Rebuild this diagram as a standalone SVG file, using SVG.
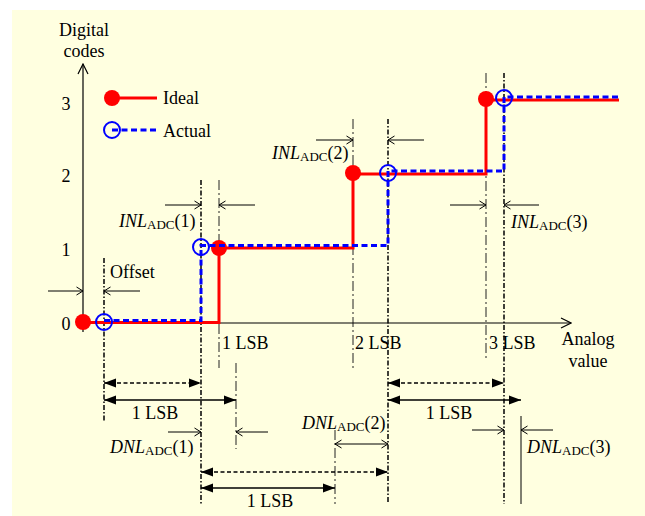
<svg xmlns="http://www.w3.org/2000/svg" width="645" height="516" viewBox="0 0 645 516">
<style>
text{font-family:"Liberation Serif","Times New Roman",serif;font-size:18px;fill:#000}
.it{font-style:italic}
.sub{font-size:13px}
.mid{text-anchor:middle}
.ddb{stroke:#000;stroke-width:1.5;stroke-dasharray:5 2 1.5 2;fill:none}
.ddl{stroke:#222;stroke-width:1;stroke-dasharray:10 3 2 3;fill:none}
.thin{stroke:#000;stroke-width:1;fill:none}
.oa{stroke:#000;stroke-width:1;fill:none;marker-end:url(#oa)}
.oa2{stroke:#000;stroke-width:1;fill:none;marker-end:url(#oa);marker-start:url(#oa)}
.dim{stroke:#000;stroke-width:1.5;fill:none;marker-end:url(#fa);marker-start:url(#fa)}
.dimd{stroke:#000;stroke-width:1.5;stroke-dasharray:4 2.5;fill:none;marker-end:url(#fa);marker-start:url(#fa)}
.ideal{stroke:#f00;stroke-width:3;fill:none}
.actual{stroke:#00f;stroke-width:3;stroke-dasharray:6 3.5;fill:none}
.rdot{fill:#f00}
.bcirc{fill:none;stroke:#00f;stroke-width:2}
</style>
<defs>
<marker id="fa" markerUnits="userSpaceOnUse" viewBox="0 0 14 10" markerWidth="14" markerHeight="10" refX="12" refY="5" orient="auto-start-reverse"><path d="M0,0.5 L12,5 L0,9.5 Z" fill="#000"/></marker>
<marker id="oa" markerUnits="userSpaceOnUse" viewBox="0 0 10 10" markerWidth="10" markerHeight="10" refX="8.5" refY="5" orient="auto-start-reverse"><path d="M2,1 L8.5,5 L2,9" fill="none" stroke="#000" stroke-width="1"/></marker>
<marker id="ax" markerUnits="userSpaceOnUse" viewBox="0 0 12 12" markerWidth="12" markerHeight="12" refX="11" refY="6" orient="auto"><path d="M1,1 L11,6 L1,11" fill="none" stroke="#000" stroke-width="1.2"/></marker>
</defs>
<rect x="12" y="10" width="633" height="506" fill="#FFFFE0"/>
<g id="guides">
<line class="ddb" x1="104" y1="258" x2="104" y2="422"/>
<line class="ddb" x1="201" y1="180" x2="201" y2="504"/>
<line class="ddb" x1="388" y1="119" x2="388" y2="504"/>
<line class="ddb" x1="504" y1="73" x2="504" y2="504"/>
<line class="ddl" x1="219" y1="180" x2="219" y2="368"/>
<line class="ddl" x1="353" y1="119" x2="353" y2="368"/>
<line class="ddl" x1="486" y1="73" x2="486" y2="361"/>
<line class="ddl" x1="236" y1="363" x2="236" y2="449"/>
<line class="ddl" x1="335" y1="430" x2="335" y2="504"/>
<line class="thin" x1="521" y1="416" x2="521" y2="504"/>
</g>
<g id="axes">
<line x1="83" y1="332" x2="83" y2="64" stroke="#000" stroke-width="1.2" marker-end="url(#ax)"/>
<line x1="83" y1="323" x2="571" y2="323" stroke="#000" stroke-width="1.2" marker-end="url(#ax)"/>
<text class="mid" x="84" y="36">Digital</text>
<text class="mid" x="84" y="57">codes</text>
<text class="mid" x="66" y="330">0</text>
<text class="mid" x="66" y="256">1</text>
<text class="mid" x="66" y="182">2</text>
<text class="mid" x="66" y="110">3</text>
<text x="222" y="349">1 LSB</text>
<text x="355" y="349">2 LSB</text>
<text x="489" y="349">3 LSB</text>
<text class="mid" x="588" y="345">Analog</text>
<text class="mid" x="588" y="367">value</text>
</g>
<g id="legend">
<line class="ideal" x1="112" y1="98" x2="157" y2="98"/>
<circle class="rdot" cx="112" cy="98" r="8"/>
<text x="163" y="104">Ideal</text>
<line class="actual" x1="112" y1="130" x2="157" y2="130"/>
<circle class="bcirc" cx="112" cy="130" r="8"/>
<text x="163" y="137">Actual</text>
</g>
<g id="ideal-curve">
<path class="ideal" d="M83,322.5 H219 V248 H353 V174 H486 V100 H619"/>
<circle class="rdot" cx="83" cy="322" r="8"/>
<circle class="rdot" cx="219" cy="248" r="8"/>
<circle class="rdot" cx="353" cy="173" r="8"/>
<circle class="rdot" cx="486" cy="99" r="8"/>
</g>
<g id="actual-curve">
<path class="actual" d="M104,320.5 H201 V245.5 H388 V171 H504 V97 H619"/>
<circle class="bcirc" cx="104" cy="322" r="8"/>
<circle class="bcirc" cx="201" cy="247" r="8"/>
<circle class="bcirc" cx="388" cy="173" r="8"/>
<circle class="bcirc" cx="504" cy="98" r="8"/>
</g>
<g id="connectors">
<path class="oa" d="M48,291 H83"/>
<path class="oa" d="M140,291 H104"/>
<path class="oa" d="M165,205 H201"/>
<path class="oa" d="M255,205 H219"/>
<path class="oa" d="M316,140 H353"/>
<path class="oa" d="M424,140 H388"/>
<path class="oa" d="M450,205 H486"/>
<path class="oa" d="M539,205 H504"/>
<path class="oa" d="M168,432 H201"/>
<path class="oa" d="M268,432 H236"/>
<path class="oa2" d="M335,444 H388"/>
<path class="oa" d="M472,430 H504"/>
<path class="oa" d="M553,430 H521"/>
<path class="dimd" d="M104,383 H201"/>
<path class="dim" d="M104,400 H236"/>
<path class="dimd" d="M201,472 H388"/>
<path class="dim" d="M201,488 H335"/>
<path class="dimd" d="M388,383 H504"/>
<path class="dim" d="M388,400 H521"/>
</g>
<g id="labels">
<text x="110" y="278">Offset</text>
<text x="119" y="227"><tspan class="it">INL</tspan><tspan class="sub" dy="2">ADC</tspan><tspan dy="-2">(1)</tspan></text>
<text x="272" y="159"><tspan class="it">INL</tspan><tspan class="sub" dy="2">ADC</tspan><tspan dy="-2">(2)</tspan></text>
<text x="511" y="228"><tspan class="it">INL</tspan><tspan class="sub" dy="2">ADC</tspan><tspan dy="-2">(3)</tspan></text>
<text x="110" y="453"><tspan class="it">DNL</tspan><tspan class="sub" dy="2">ADC</tspan><tspan dy="-2">(1)</tspan></text>
<text x="302" y="429"><tspan class="it">DNL</tspan><tspan class="sub" dy="2">ADC</tspan><tspan dy="-2">(2)</tspan></text>
<text x="527" y="453"><tspan class="it">DNL</tspan><tspan class="sub" dy="2">ADC</tspan><tspan dy="-2">(3)</tspan></text>
<text class="mid" x="155" y="419">1 LSB</text>
<text class="mid" x="449" y="419">1 LSB</text>
<text class="mid" x="270" y="507">1 LSB</text>
</g>
</svg>
